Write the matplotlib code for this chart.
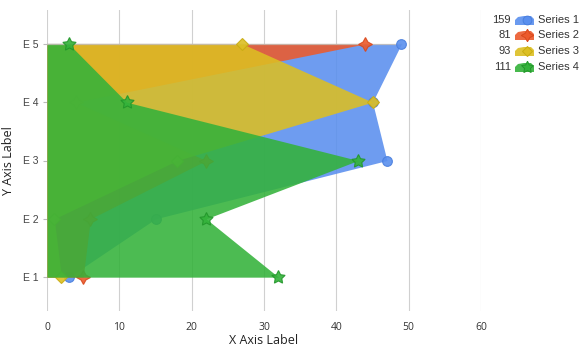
import numpy as np
import matplotlib
matplotlib.use("Agg")
import matplotlib.pyplot as plt
from matplotlib.patches import Polygon

plt.rcParams['font.family'] = ['Liberation Sans', 'DejaVu Sans']

# data
categories = ["E 1", "E 2", "E 3", "E 4", "E 5"]
series_names = ["Series 1", "Series 2", "Series 3", "Series 4"]
s1 = [3, 15, 47, 45, 49]
s2 = [5, 6, 22, 4, 44]
s3 = [2, 1, 18, 45, 27]
s4 = [32, 22, 43, 11, 3]
series = [s1, s2, s3, s4]

colors = ["#5A8FEE", "#EC5A2C", "#DCBF22", "#33B23A"]
edges = ["#4A7FDE", "#D9481C", "#C9AC12", "#22962A"]
markers = ["o", (4, 1, 0), "D", (5, 1, 0)]
msizes = [7, 10, 6, 10]

fig = plt.figure(figsize=(5.85, 3.53), dpi=100)
W, H = 585, 353
ax = fig.add_axes([47 / W, 1 - 311 / H, (481 - 47) / W, (311 - 10) / H])

y = np.arange(1, len(categories) + 1)
for i, vals in enumerate(series):
    z = 2 + i
    ax.fill_betweenx(y, 0, vals, color=colors[i], alpha=0.88, lw=0, zorder=z)
    # faint top edge of the area
    ax.plot([0, vals[-1]], [y[-1], y[-1]], color="#c4bcb4", lw=0.9, alpha=0.8, zorder=z + 0.2)
    ax.plot(vals, y, ls="none", marker=markers[i], ms=msizes[i],
            mfc=colors[i], mec=edges[i], mew=0.8, alpha=0.9, zorder=z + 0.5)

ax.set_xlim(0, 60)
ax.set_ylim(0.42, 5.58)
ax.set_xticks(range(0, 61, 10))
ax.set_yticks(y)
ax.set_yticklabels(categories)
ax.grid(axis="x", color="#d0d0d0", lw=0.8, zorder=0)
for s in ax.spines.values():
    s.set_visible(False)
ax.tick_params(axis="x", length=0, pad=8, labelsize=7.5, colors="#333333",
               labelfontfamily="Open Sans")
ax.tick_params(axis="y", length=3, width=0.8, color="#bbbbbb", pad=3,
               labelsize=7.5, labelcolor="#444444")
ax.set_xlabel("X Axis Label", fontsize=9, color="#222222", family="Open Sans", labelpad=1)
ax.set_ylabel("Y Axis Label", fontsize=9, color="#222222", family="Open Sans", labelpad=6)

# legend
lax = fig.add_axes([0, 0, 1, 1])
lax.set_xlim(0, W)
lax.set_ylim(H, 0)
lax.axis("off")
rows = [20, 35, 51, 67]
for i, vals in enumerate(series):
    r = rows[i]
    lax.text(511, r, str(sum(vals)), ha="right", va="center", fontsize=8, color="#333333")
    poly = Polygon([(515, r + 5), (515, r), (518, r - 3), (524, r - 4), (531, r - 4),
                    (534, r - 1), (534, r + 5)], closed=True, fc=colors[i], ec="none", alpha=0.9)
    lax.add_patch(poly)
    lax.plot([527], [r], ls="none", marker=markers[i], ms=msizes[i] * 0.9,
             mfc=colors[i], mec=edges[i], mew=0.7)
    lax.text(538, r, series_names[i], ha="left", va="center", fontsize=8, color="#333333")

fig.savefig("out.png", dpi=100)
